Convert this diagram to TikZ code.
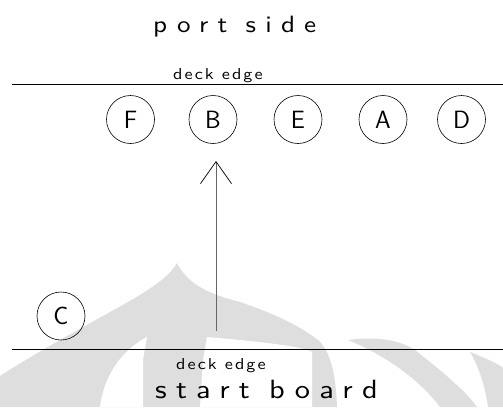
\documentclass[tikz,border=0pt]{standalone}
\usepackage{fontspec}
\usetikzlibrary{arrows.meta}
\newfontfamily\cadbig{lmsans10-regular}[Extension=.otf, FakeStretch=1.15, LetterSpace=39]
\newfontfamily\cadboard{lmsans10-regular}[Extension=.otf, FakeStretch=1.15, LetterSpace=35]
\newfontfamily\cadsmall{lmsans10-regular}[Extension=.otf, FakeStretch=1.15, LetterSpace=13]
\definecolor{wm}{gray}{0.87}
\tikzset{
  x=1pt, y=-1pt,
  seat/.style={draw, circle, line width=0.6pt, minimum size=48pt, inner sep=0pt,
    font=\sffamily\fontsize{25}{25}\selectfont},
  deckline/.style={line width=0.6pt},
  lbl/.style={anchor=base west, inner sep=0pt},
  bigtxt/.style={font=\cadbig\fontsize{23.6}{24}\selectfont},
  boardtxt/.style={font=\cadboard\fontsize{26.4}{27}\selectfont},
  smalltxt/.style={font=\cadsmall\fontsize{15.8}{16}\selectfont},
  move/.style={draw=black!60, line width=1pt,
    -{Straight Barb[length=22pt,width=31pt,black,line width=0.7pt]}},
}
\begin{document}
\begin{tikzpicture}
\fill[white] (0,0) rectangle (503,407);
\useasboundingbox (0,0) rectangle (503,407);
% faint watermark
\fill[wm] (0,376) .. controls (40,350) and (100,318) .. (135,298)
  .. controls (158,284) and (170,275) .. (177,263)
  .. controls (186,280) and (200,292) .. (240,302)
  .. controls (275,314) and (300,326) .. (318,340)
  .. controls (332,352) and (336,380) .. (337,407) -- (0,407) -- cycle;
\fill[white] (147,337) -- (143,360) -- (143,407) -- (100,407)
  .. controls (104,375) and (122,350) .. (147,337) -- cycle;
\fill[white] (207,337) .. controls (240,340) and (300,345) .. (312,352)
  -- (312,407) -- (200,407) -- (203,360) -- cycle;
\fill[wm] (348,340) .. controls (375,336) and (400,340) .. (415,350)
  .. controls (440,370) and (465,390) .. (477,407) -- (440,407)
  .. controls (420,380) and (385,355) .. (348,340) -- cycle;
\fill[wm] (470,352) .. controls (490,360) and (500,365) .. (503,368)
  -- (503,407) -- (488,407) .. controls (485,385) and (478,365) .. (470,352) -- cycle;
% deck edges
\coordinate (tl) at (12,84);
\coordinate (tr) at (503,84);
\coordinate (bl) at (12,349);
\coordinate (br) at (503,349);
\draw[deckline] (tl) -- (tr);
\draw[deckline] (bl) -- (br);
% labels
\node[lbl, bigtxt] (port) at (153,32) {port side};
\node[lbl, smalltxt] (topdeck) at (173,79) {deck edge};
\node[lbl, smalltxt] (botdeck) at (176,369) {deck edge};
\node[lbl, boardtxt] (board) at (155,398) {start board};
% positions
\node[seat] (F) at (130.5,119.5) {F};
\node[seat] (B) at (213,119.5) {B};
\node[seat] (E) at (298,119.5) {E};
\node[seat] (A) at (383,119.5) {A};
\node[seat] (D) at (461.5,119.5) {D};
\node[seat] (C) at (61,316) {C};
% arrow
\coordinate (tail) at (216,331);
\coordinate (tip) at (216,161);
\draw[move] (tail) -- (tip);
\end{tikzpicture}
\end{document}
